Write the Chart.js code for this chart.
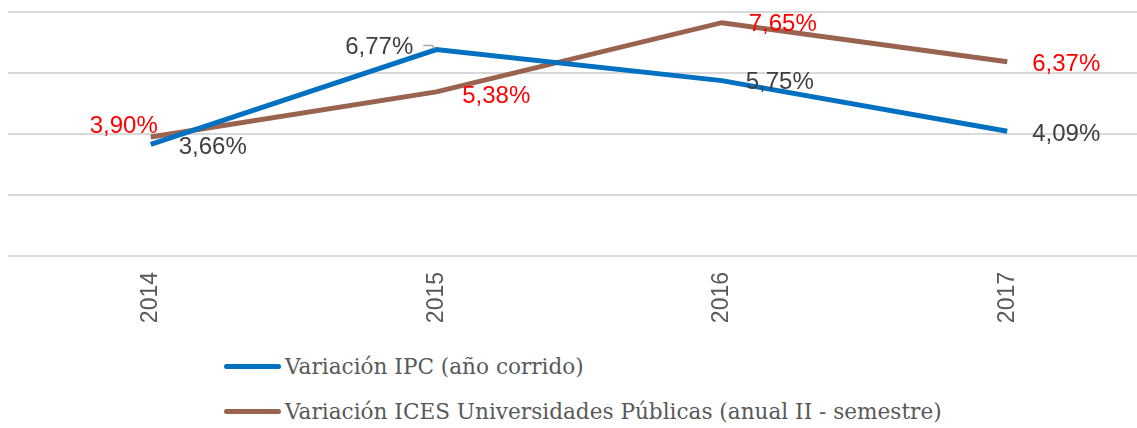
<!DOCTYPE html>
<html>
<head>
<meta charset="utf-8">
<script src="https://cdn.jsdelivr.net/npm/chart.js@4/dist/chart.umd.min.js"></script>
<style>
  body { margin: 0; background: #fff; overflow: hidden; width: 1137px; height: 428px; }
  #wrap { position: relative; width: 1150px; height: 340px; }
  .legend { position: absolute; left: 224px; font-family: "DejaVu Serif", serif; font-size: 21.6px; color: #595959; white-space: nowrap; }
  .legend span.sw { display: inline-block; width: 57px; height: 5px; border-radius: 3px; vertical-align: middle; margin-right: 4px; position: relative; top: -2px; }
</style>
</head>
<body>
<div id="wrap"><canvas id="chart" width="1150" height="340"></canvas></div>
<div class="legend" style="top:354px"><span class="sw" style="background:#0070c0"></span>Variación IPC (año corrido)</div>
<div class="legend" style="top:399px"><span class="sw" style="background:#9a6350"></span>Variación ICES Universidades Públicas (anual II - semestre)</div>
<script>
// datos
const years = ['2014', '2015', '2016', '2017'];
const ipc = [3.66, 6.77, 5.75, 4.09];
const ices = [3.90, 5.38, 7.65, 6.37];

// posicion de las etiquetas respecto al punto (dx, dy, align)
const ipcLabelPos = [[28, 3, 'left'], [-23, -2, 'right'], [24, 2, 'left'], [25, 3, 'left']];
const icesLabelPos = [[7, -11, 'right'], [26, 4, 'left'], [27, 2, 'left'], [25, 3, 'left']];

function fmt(v) {
  return v.toFixed(2).replace('.', ',') + '%';
}

const valueLabels = {
  id: 'valueLabels',
  afterDatasetsDraw(chart) {
    const ctx = chart.ctx;
    ctx.save();
    ctx.font = '24px "Liberation Sans", Arial, sans-serif';
    ctx.textBaseline = 'middle';
    chart.data.datasets.forEach((ds, di) => {
      const meta = chart.getDatasetMeta(di);
      meta.data.forEach((pt, i) => {
        const p = ds.labelPos[i];
        ctx.fillStyle = ds.labelColor;
        ctx.textAlign = p[2];
        ctx.fillText(fmt(ds.data[i]), pt.x + p[0], pt.y + p[1]);
      });
    });
    // linea guia de 6,77%
    const pt = chart.getDatasetMeta(0).data[1];
    ctx.strokeStyle = '#a6a6a6';
    ctx.lineWidth = 1.5;
    ctx.beginPath();
    ctx.moveTo(pt.x - 13, pt.y - 4);
    ctx.lineTo(pt.x - 4, pt.y - 4);
    ctx.lineTo(pt.x - 2, pt.y - 1);
    ctx.stroke();
    ctx.restore();
  }
};

new Chart(document.getElementById('chart'), {
  type: 'line',
  data: {
    labels: years,
    datasets: [
      {
        label: 'Variación IPC (año corrido)',
        data: ipc,
        borderColor: '#0070c0',
        borderWidth: 5,
        pointRadius: 0,
        tension: 0,
        labelColor: '#404040',
        labelPos: ipcLabelPos
      },
      {
        label: 'Variación ICES Universidades Públicas (anual II - semestre)',
        data: ices,
        borderColor: '#9a6350',
        borderWidth: 5,
        pointRadius: 0,
        tension: 0,
        labelColor: '#ff0000',
        labelPos: icesLabelPos
      }
    ]
  },
  options: {
    responsive: false,
    animation: false,
    layout: { padding: { left: 8, right: 0, top: 12, bottom: 0 } },
    plugins: { legend: { display: false }, tooltip: { enabled: false } },
    scales: {
      x: {
        offset: true,
        grid: { display: false },
        border: { display: false },
        ticks: {
          minRotation: 90,
          maxRotation: 90,
          padding: 8,
          color: '#595959',
          font: { family: '"Liberation Sans", Arial, sans-serif', size: 23 }
        },
        afterFit(axis) { axis.height = 84; }
      },
      y: {
        min: 0,
        max: 8,
        ticks: { stepSize: 2, display: false },
        grid: { color: '#d9d9d9', lineWidth: 2, drawTicks: false },
        border: { display: false },
        afterFit(axis) { axis.width = 0; }
      }
    }
  },
  plugins: [valueLabels]
});
</script>
</body>
</html>
